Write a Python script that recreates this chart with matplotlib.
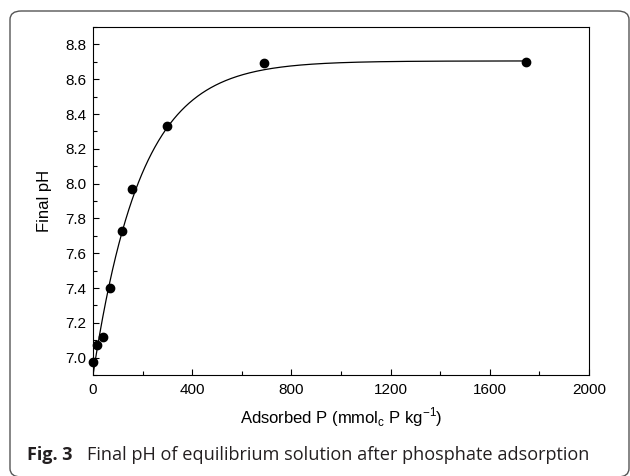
import numpy as np
import matplotlib
matplotlib.use("Agg")
import matplotlib.pyplot as plt
from matplotlib.patches import FancyBboxPatch
from matplotlib.ticker import MultipleLocator

adsorbed_p = [0, 17, 39, 70, 118, 159, 297, 688, 1746]
final_ph = [6.976, 7.074, 7.118, 7.40, 7.727, 7.968, 8.331, 8.695, 8.699]

# plateau of the fitted curve
ph_plateau = 8.705

x_ticks = [0, 400, 800, 1200, 1600, 2000]
y_ticks = [7.0, 7.2, 7.4, 7.6, 7.8, 8.0, 8.2, 8.4, 8.6, 8.8]


def fit_exp_rise(x, y, plateau):
    # y = plateau - d * exp(-b x); scan b, solve d by least squares
    x = np.asarray(x, float)
    y = np.asarray(y, float)
    best = None
    for b in np.linspace(0.001, 0.02, 4000):
        g = np.exp(-b * x)
        d = np.sum(g * (plateau - y)) / np.sum(g * g)
        err = np.sum((plateau - d * g - y) ** 2)
        if best is None or err < best[0]:
            best = (err, d, b)
    return best[1:]


def main():
    plt.rcParams['font.family'] = ['Liberation Sans', 'DejaVu Sans']

    fig = plt.figure(figsize=(6.3, 4.76), dpi=100)

    # rounded frame around the whole figure
    frame = FancyBboxPatch((10 / 630, -1 / 476), 619 / 630, 466 / 476,
                           boxstyle="round,pad=0,rounding_size=0.018",
                           transform=fig.transFigure, fill=False,
                           edgecolor='#555555', linewidth=1.0, clip_on=False)
    fig.patches.append(frame)

    ax = fig.add_axes([93 / 630, 1 - 375 / 476, 496 / 630, 348 / 476])

    d, b = fit_exp_rise(adsorbed_p, final_ph, ph_plateau)
    xs = np.linspace(0, max(adsorbed_p), 800)
    ax.plot(xs, ph_plateau - d * np.exp(-b * xs), color='black', linewidth=0.9)
    ax.plot(adsorbed_p, final_ph, 'o', color='black', markersize=6, clip_on=False)

    ax.set_xlim(0, 2000)
    ax.set_ylim(6.9, 8.9)
    ax.set_xticks(x_ticks)
    ax.set_yticks(y_ticks)
    ax.set_yticklabels([f"{v:.1f}" for v in y_ticks])
    ax.xaxis.set_minor_locator(MultipleLocator(200))
    ax.yaxis.set_minor_locator(MultipleLocator(0.1))
    ax.tick_params(which='both', direction='in', top=False, right=False,
                   labelsize=11, width=0.8)
    ax.tick_params(which='major', length=4)
    ax.tick_params(which='minor', length=3)
    ax.tick_params(axis='y', which='major', pad=4.5)
    ax.tick_params(axis='x', which='major', pad=6)
    for s in ax.spines.values():
        s.set_linewidth(0.8)

    ax.set_xlabel("Adsorbed P (mmol$_\\mathregular{c}$ P kg$^\\mathregular{-1}$)",
                  fontsize=12, labelpad=6)
    ax.set_ylabel("Final pH", fontsize=12, labelpad=10)

    fig.text(27 / 630, 1 - 455 / 476, "Fig. 3", fontsize=13, fontweight='bold',
             family='Open Sans', color='#231f20', va='center')
    fig.text(87 / 630, 1 - 455 / 476,
             "Final pH of equilibrium solution after phosphate adsorption",
             fontsize=13.1, family='Open Sans', color='#231f20', va='center')

    fig.savefig("out.png", dpi=100)
    plt.close(fig)


if __name__ == '__main__':
    main()
